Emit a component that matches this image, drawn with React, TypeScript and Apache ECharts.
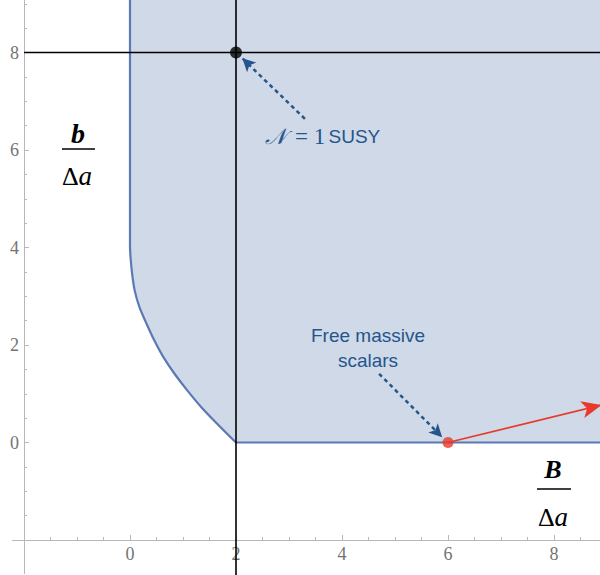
import React, { useEffect, useRef } from "react";
import * as echarts from "echarts";

// Axis ranges and ticks
const X_MIN = -2;
const X_MAX = 9;
const Y_MIN = -2;
const Y_MAX = 10;
const TICK_INTERVAL = 2;
const LABELLED_TICKS = [0, 2, 4, 6, 8];

// Boundary of the allowed region (curve from (0,4) down to (2,0))
const curveX = [0, 0.01, 0.04, 0.09, 0.18, 0.31, 0.46, 0.63, 0.84, 1.08, 1.35, 1.64, 1.96, 2];
const curveY = [4, 3.8, 3.46, 3.11, 2.77, 2.44, 2.09, 1.75, 1.41, 1.07, 0.72, 0.39, 0.04, 0];

// Special points
const susyPoint = [2, 8];
const scalarPoint = [6, 0];
const scalarArrowEnd = [8.9, 0.77];

// Reference lines
const verticalLineX = 2;
const horizontalLineY = 8;

// Annotation arrows (start -> end)
const susyArrow = [[3.3, 6.64], [2.12, 7.88]];
const scalarArrow = [[4.7, 1.41], [5.89, 0.11]];

const FILL = "#cfd9e7";
const EDGE = "#5b79b4";
const ANNO = "#24558c";
const RED = "#e8392b";

export default function App() {
  const ref = useRef<HTMLDivElement>(null);

  useEffect(() => {
    document.body.style.margin = "0";
    if (!ref.current) return;
    const chart = echarts.init(ref.current, null, { renderer: "svg" });

    const curvePts = curveX.map((x, i) => [x, curveY[i]]);
    const fillPts = [[0, Y_MAX], ...curvePts, [X_MAX, 0], [X_MAX, Y_MAX]];
    const leftEdge = [[0, Y_MAX], [0, 4]];
    const bottomEdge = [[2, 0], [X_MAX, 0]];

    const axisColor = "#b8b8b8";
    const mkLabel = (margin: number) => ({
      color: "#737373",
      fontFamily: "Liberation Serif",
      fontSize: 18,
      margin,
      formatter: (v: number) => (LABELLED_TICKS.indexOf(v) >= 0 ? String(v) : ""),
    });

    const option: any = {
      animation: false,
      grid: { left: 24, right: -7, top: -45, bottom: 35, outerBoundsMode: "none", containLabel: false },
      xAxis: {
        type: "value",
        min: X_MIN,
        max: X_MAX,
        interval: TICK_INTERVAL,
        splitLine: { show: false },
        axisLine: { show: true, onZero: false, lineStyle: { color: axisColor, width: 1 } },
        axisTick: { show: true, inside: true, length: 5, lineStyle: { color: axisColor } },
        minorTick: { show: true, splitNumber: 4, length: 3, lineStyle: { color: axisColor } },
        axisLabel: mkLabel(5),
      },
      yAxis: {
        type: "value",
        min: Y_MIN,
        max: Y_MAX,
        interval: TICK_INTERVAL,
        splitLine: { show: false },
        axisLine: { show: true, onZero: false, lineStyle: { color: axisColor, width: 1 } },
        axisTick: { show: true, inside: true, length: 5, lineStyle: { color: axisColor } },
        minorTick: { show: true, splitNumber: 4, length: 3, lineStyle: { color: axisColor } },
        axisLabel: mkLabel(5),
      },
      series: [
        {
          type: "custom",
          silent: true,
          z: 1,
          data: [[0, 0]],
          renderItem: (params: any, api: any) => {
            const c = (arr: number[][]) => arr.map((p) => api.coord(p));
            const edgeStyle = { stroke: EDGE, lineWidth: 2.2, fill: null, lineCap: "round", lineJoin: "round" };
            return {
              type: "group",
              children: [
                { type: "polygon", shape: { points: c(fillPts) }, style: { fill: FILL } },
                { type: "polyline", shape: { points: c(leftEdge) }, style: edgeStyle },
                { type: "polyline", shape: { points: c(curvePts), smooth: 0.3 }, style: edgeStyle },
                { type: "polyline", shape: { points: c(bottomEdge) }, style: edgeStyle },
              ],
            };
          },
        },
        {
          type: "line",
          silent: true,
          clip: false,
          z: 3,
          symbol: "none",
          data: [
            [verticalLineX, -2.8],
            [verticalLineX, Y_MAX],
          ],
          lineStyle: { color: "#000", width: 1.6 },
        },
        {
          type: "line",
          silent: true,
          clip: false,
          z: 3,
          symbol: "none",
          data: [
            [X_MIN, horizontalLineY],
            [X_MAX, horizontalLineY],
          ],
          lineStyle: { color: "#000", width: 1.6 },
          markLine: {
            silent: true,
            symbol: ["none", "arrow"],
            symbolSize: [10, 13],
            label: { show: false },
            lineStyle: { color: ANNO, width: 2.5, type: [4, 3.5] },
            data: [
              [{ coord: susyArrow[0] }, { coord: susyArrow[1] }],
              [{ coord: scalarArrow[0] }, { coord: scalarArrow[1] }],
            ],
          },
        },
        {
          type: "line",
          silent: true,
          clip: false,
          z: 4,
          symbol: "none",
          data: [],
          markLine: {
            silent: true,
            symbol: ["none", "arrow"],
            symbolSize: [13, 20],
            label: { show: false },
            lineStyle: { color: RED, width: 1.6, type: "solid" },
            data: [[{ coord: scalarPoint }, { coord: scalarArrowEnd }]],
          },
        },
        {
          type: "scatter",
          silent: true,
          z: 5,
          symbolSize: 12,
          itemStyle: { color: "#000" },
          data: [susyPoint],
        },
        {
          type: "scatter",
          silent: true,
          z: 5,
          symbolSize: 11,
          itemStyle: { color: RED },
          data: [scalarPoint],
        },
      ],
      graphic: [
        // axis extensions (Mathematica-style crossing axes)
        { type: "line", shape: { x1: 12, y1: 540.5, x2: 24, y2: 540.5 }, style: { stroke: axisColor, lineWidth: 1 } },
        { type: "line", shape: { x1: 24.5, y1: 540, x2: 24.5, y2: 574 }, style: { stroke: axisColor, lineWidth: 1 } },
        // annotations
        {
          type: "text",
          x: 265,
          y: 136,
          z: 10,
          style: {
            text: "𝒩",
            verticalAlign: "middle",
            align: "left",
            fontFamily: "DejaVu Serif",
            fontStyle: "italic",
            fontSize: 22,
            fill: ANNO,
          },
        },
        {
          type: "text",
          x: 295,
          y: 136,
          z: 10,
          style: {
            text: "{e|= 1} {s|SUSY}",
            verticalAlign: "middle",
            align: "left",
            rich: {
              e: { fontFamily: "Liberation Serif", fontSize: 23, fill: ANNO },
              s: { fontFamily: "Liberation Sans", fontSize: 19, fill: ANNO },
            },
          },
        },
        {
          type: "text",
          x: 368,
          y: 348,
          z: 10,
          style: {
            text: "Free massive\nscalars",
            align: "center",
            verticalAlign: "middle",
            fontFamily: "Liberation Sans",
            fontSize: 19,
            lineHeight: 25,
            fill: ANNO,
          },
        },
        // y-axis label b / Δa
        {
          type: "text",
          x: 78,
          y: 133,
          style: {
            text: "b",
            align: "center",
            verticalAlign: "middle",
            fontFamily: "Liberation Serif",
            fontStyle: "italic",
            fontWeight: "bold",
            fontSize: 28,
            fill: "#000",
          },
        },
        { type: "line", shape: { x1: 62, y1: 149, x2: 95, y2: 149 }, style: { stroke: "#000", lineWidth: 1.5 } },
        {
          type: "text",
          x: 77,
          y: 176,
          style: {
            text: "{u|Δ}{i|a}",
            align: "center",
            verticalAlign: "middle",
            rich: {
              u: { fontFamily: "Liberation Serif", fontSize: 26, fill: "#000" },
              i: { fontFamily: "Liberation Serif", fontStyle: "italic", fontSize: 27, fill: "#000" },
            },
          },
        },
        // x-axis label B / Δa
        {
          type: "text",
          x: 553,
          y: 469,
          style: {
            text: "B",
            align: "center",
            verticalAlign: "middle",
            fontFamily: "Liberation Serif",
            fontStyle: "italic",
            fontWeight: "bold",
            fontSize: 26,
            fill: "#000",
          },
        },
        { type: "line", shape: { x1: 537, y1: 489, x2: 571, y2: 489 }, style: { stroke: "#000", lineWidth: 1.5 } },
        {
          type: "text",
          x: 553,
          y: 517,
          style: {
            text: "{u|Δ}{i|a}",
            align: "center",
            verticalAlign: "middle",
            rich: {
              u: { fontFamily: "Liberation Serif", fontSize: 26, fill: "#000" },
              i: { fontFamily: "Liberation Serif", fontStyle: "italic", fontSize: 27, fill: "#000" },
            },
          },
        },
      ],
    };

    chart.setOption(option);
    return () => chart.dispose();
  }, []);

  return <div ref={ref} style={{ width: 600, height: 575 }} />;
}
